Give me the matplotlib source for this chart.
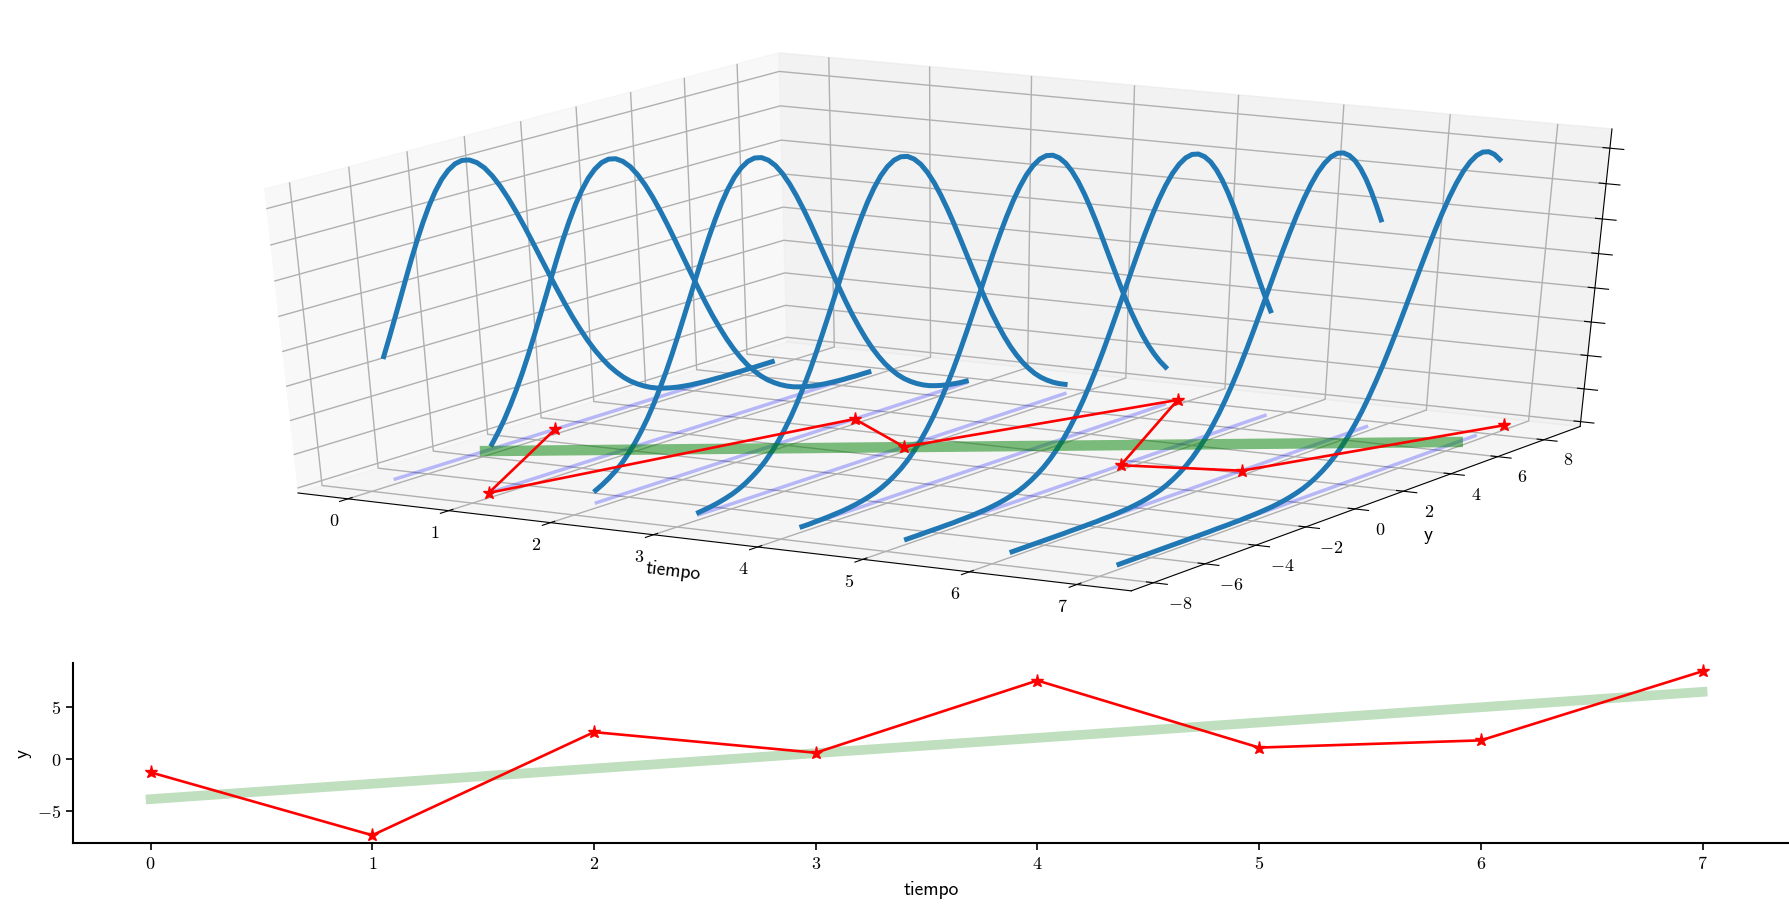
import numpy as np
import matplotlib
matplotlib.use("Agg")
import matplotlib.pyplot as plt

plt.rcParams['mathtext.fontset'] = 'cm'
plt.rcParams['axes.unicode_minus'] = True
plt.rcParams['grid.linewidth'] = 1.0

tiempo = [0, 1, 2, 3, 4, 5, 6, 7]
obs_y = [-1.3, -7.4, 2.6, 0.6, 7.6, 1.1, 1.8, 8.5]
recta_y = [-3.9, -2.41, -0.93, 0.56, 2.04, 3.53, 5.01, 6.5]
# bell profile: height against distance from the line (one side, mirrored)
perfil_d = [0, 0.25, 0.5, 0.75, 1, 1.25, 1.5, 1.75, 2, 2.25, 2.5, 2.75, 3, 3.25, 3.5, 3.75, 4,
            4.25, 4.5, 4.75, 5, 5.25, 5.5, 5.75, 6, 6.25, 6.5, 6.75, 7, 7.25, 7.5, 7.75, 8,
            8.25, 8.5, 8.75, 9, 9.25, 9.5, 9.75, 10, 10.25, 10.5, 10.75, 11,
            11.25, 11.5, 11.75, 12, 12.25, 12.5, 12.75, 13, 13.25, 13.5, 13.75, 14, 14.25]
perfil_z = [0.16, 0.1592, 0.1568, 0.153, 0.1477, 0.1412, 0.1336, 0.1252, 0.1162, 0.1067, 0.097,
            0.0874, 0.0779, 0.0687, 0.06, 0.052, 0.0445, 0.0377, 0.0317, 0.0263, 0.0217, 0.0176,
            0.0142, 0.0114, 0.009, 0.007, 0.0054, 0.0042, 0.0032, 0.0024, 0.0018, 0.0013, 0.001,
            0.0007, 0.0005, 0.0004, 0.0002, 0.0002, 0.0001, 0.0001, 0.0001, 0, 0, 0, 0,
            0, 0, 0, 0, 0, 0, 0, 0, 0, 0, 0, 0, 0]
y_rango = [-7.25, 7.25]
xticks3d = [0, 1, 2, 3, 4, 5, 6, 7]
yticks3d = [-8, -6, -4, -2, 0, 2, 4, 6, 8]
zticks3d = [0, 0.019, 0.0381, 0.0571, 0.0762, 0.0952, 0.1142, 0.1333, 0.1523]
yticks2d = [-5, 0, 5]

W, H = 1789, 911
fig = plt.figure(figsize=(W / 100, H / 100), dpi=100)

cx, cy, w3, h3 = 0.517, 0.6473, 0.9945, 0.7045
ax = fig.add_axes([cx - w3 / 2, cy - h3 / 2, w3, h3], projection='3d')
ax.apply_aspect = lambda position=None: None
ax.view_init(elev=30, azim=-60)
ax.set_box_aspect((1, 1, 1), zoom=0.909)
ax.patch.set_visible(False)

d = np.array(perfil_d)
z = np.array(perfil_z)
d_full = np.concatenate([-d[:0:-1], d])
z_full = np.concatenate([z[:0:-1], z])
for t, m in zip(tiempo, recta_y):
    yy = m + d_full
    mask = (yy >= y_rango[0]) & (yy <= y_rango[1])
    ax.plot([t] * mask.sum(), yy[mask], [0] * mask.sum(), color='blue', alpha=0.25, lw=2.5, clip_on=False)
for t, m in zip(tiempo, recta_y):
    yy = m + d_full
    mask = (yy >= y_rango[0]) & (yy <= y_rango[1])
    ax.plot([t] * mask.sum(), yy[mask], z_full[mask], color='#1f77b4', lw=3.6, clip_on=False)
ax.plot(tiempo, recta_y, [0] * 8, color='green', alpha=0.5, lw=7.5, clip_on=False)
ax.plot(tiempo, obs_y, [0] * 8, color='red', lw=1.9, marker='*', ms=9.5, clip_on=False)

ax.set_xlim(-0.5, 7.5)
ax.set_ylim(-8.85, 9.6)
ax.set_zlim(-0.0028, 0.1625)
ax.set_xticks(xticks3d)
ax.set_xticklabels([f'${v}$' for v in xticks3d], fontsize=13)
ax.set_yticks(yticks3d)
ax.set_yticklabels([f'${v}$' for v in yticks3d], fontsize=13)
ax.set_zticks(zticks3d)
ax.set_zticklabels([])
ax.tick_params(axis='x', pad=5)
ax.tick_params(axis='y', pad=6)
ax.set_xlabel('tiempo', family='cmss10', fontsize=14, labelpad=9)
ax.set_ylabel('y', family='cmss10', fontsize=14, labelpad=14)

ax2 = fig.add_axes([73 / W, 1 - 843 / H, (W - 73) / W, 180 / H])
ax2.plot(tiempo, recta_y, color='green', alpha=0.25, lw=7)
ax2.plot(tiempo, obs_y, color='red', lw=1.9, marker='*', ms=9.5)
ax2.set_xlim(-0.35, 7.39)
ax2.set_ylim(-8.15, 9.3)
ax2.set_xticks(tiempo)
ax2.set_xticklabels([f'${v}$' for v in tiempo], fontsize=13)
ax2.set_yticks(yticks2d)
ax2.set_yticklabels([f'${v}$' for v in yticks2d], fontsize=13)
ax2.set_xlabel('tiempo', family='cmss10', fontsize=14, labelpad=6)
ax2.set_ylabel('y', family='cmss10', fontsize=14)
ax2.spines['top'].set_visible(False)
ax2.spines['right'].set_visible(False)
for s in ('left', 'bottom'):
    ax2.spines[s].set_linewidth(1.5)
ax2.tick_params(width=1.2, length=5)

fig.savefig('out.png', dpi=100)
